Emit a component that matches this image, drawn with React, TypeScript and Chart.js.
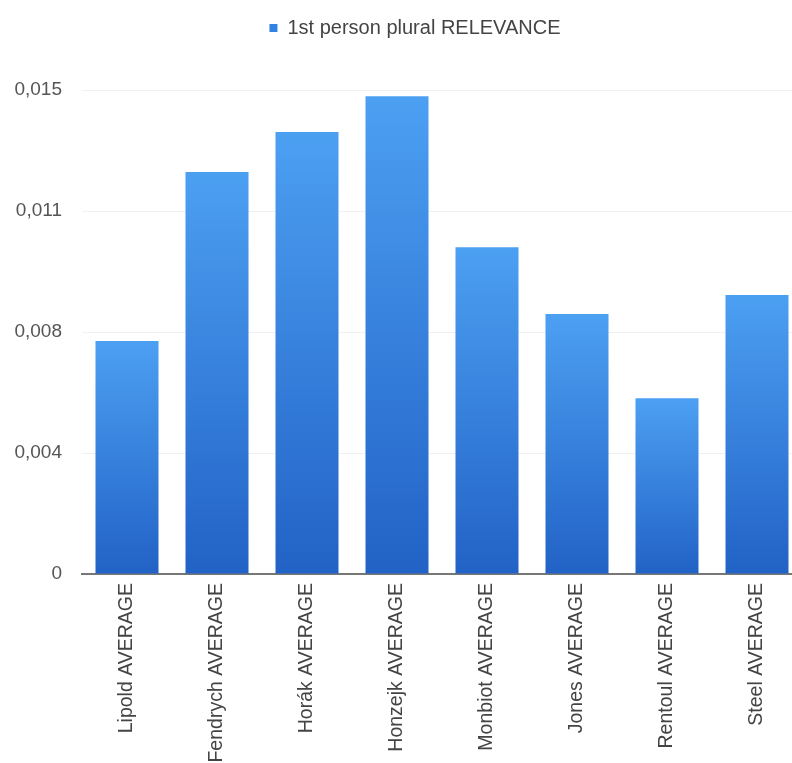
import React, { useEffect, useRef } from "react";
import { Chart, registerables } from "chart.js";

Chart.register(...registerables);

const categories = [
  "Lipold AVERAGE",
  "Fendrych AVERAGE",
  "Horák AVERAGE",
  "Honzejk AVERAGE",
  "Monbiot AVERAGE",
  "Jones AVERAGE",
  "Rentoul AVERAGE",
  "Steel AVERAGE",
];
const seriesLabel = "1st person plural RELEVANCE";
const relevance = [0.00722, 0.01246, 0.0137, 0.01481, 0.01013, 0.00806, 0.00545, 0.00865];
const yTickValues = [0, 0.00375, 0.0075, 0.01125, 0.015];

const FONT = "'Liberation Sans', Arial, Helvetica, sans-serif";

export default function App() {
  const ref = useRef<HTMLCanvasElement | null>(null);
  useEffect(() => {
    document.documentElement.style.overflow = "hidden";
    document.body.style.overflow = "hidden";
    document.body.style.margin = "0";
    const canvas = ref.current!;
    const legendTweak = {
      id: "legendTweak",
      beforeInit(chart: any) {
        const legend = chart.legend;
        const origFit = legend.fit;
        legend.fit = function () {
          origFit.call(legend);
          this.height += 42;
        };
        const origDraw = legend.draw;
        legend.draw = function () {
          const c = chart.ctx;
          c.save();
          c.translate(9, 0);
          origDraw.call(legend);
          c.restore();
        };
      },
    };
    const chart = new Chart(canvas, {
      type: "bar",
      data: {
        labels: categories,
        datasets: [
          {
            label: seriesLabel,
            data: relevance,
            backgroundColor: (ctx: any) => {
              const c = ctx.chart;
              const area = c.chartArea;
              if (!area || ctx.type !== "data") return "#3a86e0";
              const ys = c.scales.y;
              const top = ys.getPixelForValue(ctx.parsed.y);
              const bottom = ys.getPixelForValue(0);
              const g = c.ctx.createLinearGradient(0, top, 0, bottom);
              g.addColorStop(0, "rgb(76,160,242)");
              g.addColorStop(1, "rgb(34,98,198)");
              return g;
            },
            borderWidth: 0,
            barPercentage: 0.7,
            categoryPercentage: 1,
          },
        ],
      },
      options: {
        responsive: false,
        animation: false,
        layout: { padding: { left: 10, right: 8, top: 8, bottom: 0 } },
        plugins: {
          legend: {
            position: "top",
            labels: {
              font: { family: FONT, size: 20 },
              color: "#444",
              boxWidth: 8,
              boxHeight: 8,
              padding: 10,
              generateLabels: () => [
                {
                  text: seriesLabel,
                  fillStyle: "rgb(50,130,225)",
                  strokeStyle: "rgb(50,130,225)",
                  fontColor: "#444",
                  lineWidth: 0,
                  datasetIndex: 0,
                  hidden: false,
                },
              ],
            },
          },
          tooltip: { enabled: false },
        },
        scales: {
          x: {
            grid: { display: false, drawTicks: false },
            border: { display: true, color: "#777", width: 2 },
            ticks: {
              font: { family: FONT, size: 19.5 },
              color: "#444",
              maxRotation: 90,
              minRotation: 90,
              autoSkip: false,
              padding: 9,
            },
            afterFit: (scale: any) => {
              scale.height = 189;
            },
          },
          y: {
            min: 0,
            max: 0.015,
            afterBuildTicks: (scale: any) => {
              scale.ticks = yTickValues.map((v) => ({ value: v }));
            },
            afterFit: (scale: any) => {
              scale.width = 72;
            },
            grid: { color: "rgba(0,0,0,0.06)", drawTicks: false },
            border: { display: false },
            ticks: {
              font: { family: FONT, size: 19 },
              color: "#555",
              padding: 20,
              callback: (v: any) =>
                v === 0 ? "0" : (Math.round(Number(v) * 1000 + 1e-9) / 1000).toFixed(3).replace(".", ","),
            },
          },
        },
      },
      plugins: [legendTweak],
    });
    return () => chart.destroy();
  }, []);
  return (
    <canvas
      ref={ref}
      width={810}
      height={763}
      style={{ position: "absolute", left: 0, top: 0, width: 810, height: 763 }}
    />
  );
}
